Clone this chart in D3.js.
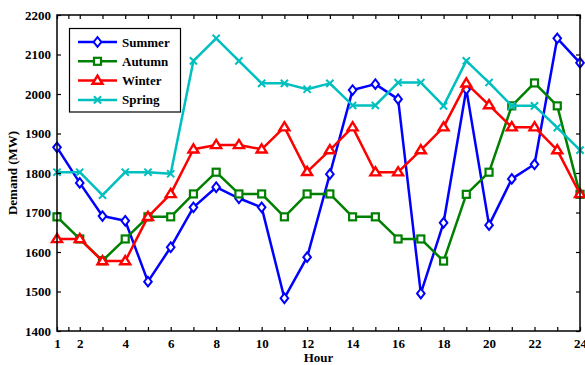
<!DOCTYPE html>
<html>
<head>
<meta charset="utf-8">
<script src="https://cdn.jsdelivr.net/npm/d3@7"></script>
<style>
  html, body { margin: 0; padding: 0; background: #fff; }
  text { font-family: "Liberation Serif", "Times New Roman", serif; font-weight: bold; }
</style>
</head>
<body>
<svg id="chart" width="585" height="365"></svg>
<script>
// Hourly electricity demand (MW) by season
const hours = d3.range(1, 25);
const summer = [1865, 1775, 1691, 1679, 1525, 1612, 1713, 1764, 1736, 1713, 1483, 1587,
                1797, 2010, 2025, 1987, 1495, 1674, 2012, 1668, 1785, 1822, 2141, 2079];
const autumn = [1689, 1633, 1578, 1633, 1689, 1689, 1747, 1802, 1747, 1747, 1689, 1747,
                1747, 1689, 1689, 1633, 1633, 1577, 1746, 1802, 1970, 2028, 1970, 1746];
const winter = [1633, 1633, 1577, 1577, 1689, 1747, 1860, 1871, 1871, 1860, 1916, 1803,
                1858, 1916, 1802, 1802, 1858, 1916, 2027, 1972, 1916, 1916, 1858, 1747];
const spring = [1802, 1802, 1744, 1802, 1802, 1798, 2084, 2141, 2084, 2027, 2027, 2012,
                2027, 1971, 1971, 2029, 2029, 1970, 2084, 2029, 1970, 1970, 1915, 1858];
const xTickLabels = [1, 2, 4, 6, 8, 10, 12, 14, 16, 18, 20, 22, 24];
const xMinorTicks = [1.5, 3, 5, 7, 9, 11, 13, 15, 17, 19, 21, 23];
const yTickLabels = [1400, 1500, 1600, 1700, 1800, 1900, 2000, 2100, 2200];

const seriesNames = ["Summer", "Autumn", "Winter", "Spring"];
const seriesValues = [summer, autumn, winter, spring];
const seriesColors = ["#0000ff", "#008000", "#ff0000", "#00bfbf"];
const seriesMarkers = ["diamond", "square", "triangle", "cross"];

const svg = d3.select("#chart");
const L = 57, R = 580, T = 15, B = 331;

const x = d3.scaleLinear().domain([1, 24]).range([L, R]);
const y = d3.scaleLinear().domain([1400, 2200]).range([B, T]);

// Marker shapes
function drawMarker(sel, type, color, cx, cy) {
  if (type === "diamond") {
    sel.append("path").attr("d", `M${cx},${cy - 4.8}L${cx + 3.8},${cy}L${cx},${cy + 4.8}L${cx - 3.8},${cy}Z`)
      .attr("fill", "#fff").attr("stroke", color).attr("stroke-width", 2);
  } else if (type === "square") {
    sel.append("rect").attr("x", cx - 3.5).attr("y", cy - 3.5).attr("width", 7).attr("height", 7)
      .attr("fill", "#fff").attr("stroke", color).attr("stroke-width", 2.2);
  } else if (type === "triangle") {
    sel.append("path").attr("d", `M${cx},${cy - 5}L${cx + 5},${cy + 3.2}L${cx - 5},${cy + 3.2}Z`)
      .attr("fill", "#fff").attr("stroke", color).attr("stroke-width", 2.4);
  } else {
    sel.append("path").attr("d", `M${cx - 3.6},${cy - 3.6}L${cx + 3.6},${cy + 3.6}M${cx + 3.6},${cy - 3.6}L${cx - 3.6},${cy + 3.6}`)
      .attr("fill", "none").attr("stroke", color).attr("stroke-width", 2);
  }
}

// Series lines and markers
const line = d3.line().x((d, i) => x(hours[i])).y(d => y(d));
const plot = svg.append("g");
seriesValues.forEach((vals, k) => {
  plot.append("path").datum(vals).attr("d", line).attr("fill", "none")
    .attr("stroke", seriesColors[k]).attr("stroke-width", 2.5).attr("stroke-linejoin", "round");
  const mg = plot.append("g");
  vals.forEach((v, i) => drawMarker(mg, seriesMarkers[k], seriesColors[k], x(hours[i]), y(v)));
});

// Axes frame with inward ticks on all four sides
const tickLen = 4;
const g = svg.append("g");

const axBottom = g.append("g").attr("transform", `translate(0,${B})`)
  .call(d3.axisBottom(x).tickValues(xTickLabels).tickSize(-tickLen).tickPadding(8).tickFormat(d3.format("d")));
const axBottomMinor = g.append("g").attr("transform", `translate(0,${B})`)
  .call(d3.axisBottom(x).tickValues(xMinorTicks).tickSize(-tickLen).tickFormat(""));
const axTop = g.append("g").attr("transform", `translate(0,${T})`)
  .call(d3.axisTop(x).tickValues(xTickLabels.concat(xMinorTicks)).tickSize(-tickLen).tickFormat(""));
const axLeft = g.append("g").attr("transform", `translate(${L},0)`)
  .call(d3.axisLeft(y).tickValues(yTickLabels).tickSize(-tickLen).tickPadding(6).tickFormat(d3.format("d")));
const axRight = g.append("g").attr("transform", `translate(${R},0)`)
  .call(d3.axisRight(y).tickValues(yTickLabels).tickSize(-tickLen).tickFormat(""));

[axBottom, axBottomMinor, axTop, axLeft, axRight].forEach(a => {
  a.select(".domain").remove();
  a.selectAll(".tick line").attr("stroke", "#000").attr("stroke-width", 1.2);
  a.selectAll("text").attr("fill", "#000").style("font-size", "13px")
    .style("font-family", "'Liberation Serif', 'Times New Roman', serif").style("font-weight", "bold");
});

g.append("rect").attr("x", L).attr("y", T).attr("width", R - L).attr("height", B - T)
  .attr("fill", "none").attr("stroke", "#000").attr("stroke-width", 1.5);

// Axis titles
svg.append("text").attr("x", (L + R) / 2).attr("y", 362).attr("text-anchor", "middle")
  .style("font-size", "13px").text("Hour");
svg.append("text").attr("transform", `translate(17,${(T + B) / 2}) rotate(-90)`)
  .attr("text-anchor", "middle").style("font-size", "13px").text("Demand (MW)");

// Legend
const lg = svg.append("g");
lg.append("rect").attr("x", 69.5).attr("y", 28.5).attr("width", 111).attr("height", 83.5)
  .attr("fill", "#fff").attr("stroke", "#000").attr("stroke-width", 1.2);
seriesNames.forEach((name, k) => {
  const ly = 42 + k * 19.3;
  lg.append("line").attr("x1", 78).attr("x2", 117).attr("y1", ly).attr("y2", ly)
    .attr("stroke", seriesColors[k]).attr("stroke-width", 2.5);
  drawMarker(lg, seriesMarkers[k], seriesColors[k], 97.5, ly);
  lg.append("text").attr("x", 122).attr("y", ly + 4.5).style("font-size", "13px").text(name);
});
</script>
</body>
</html>
